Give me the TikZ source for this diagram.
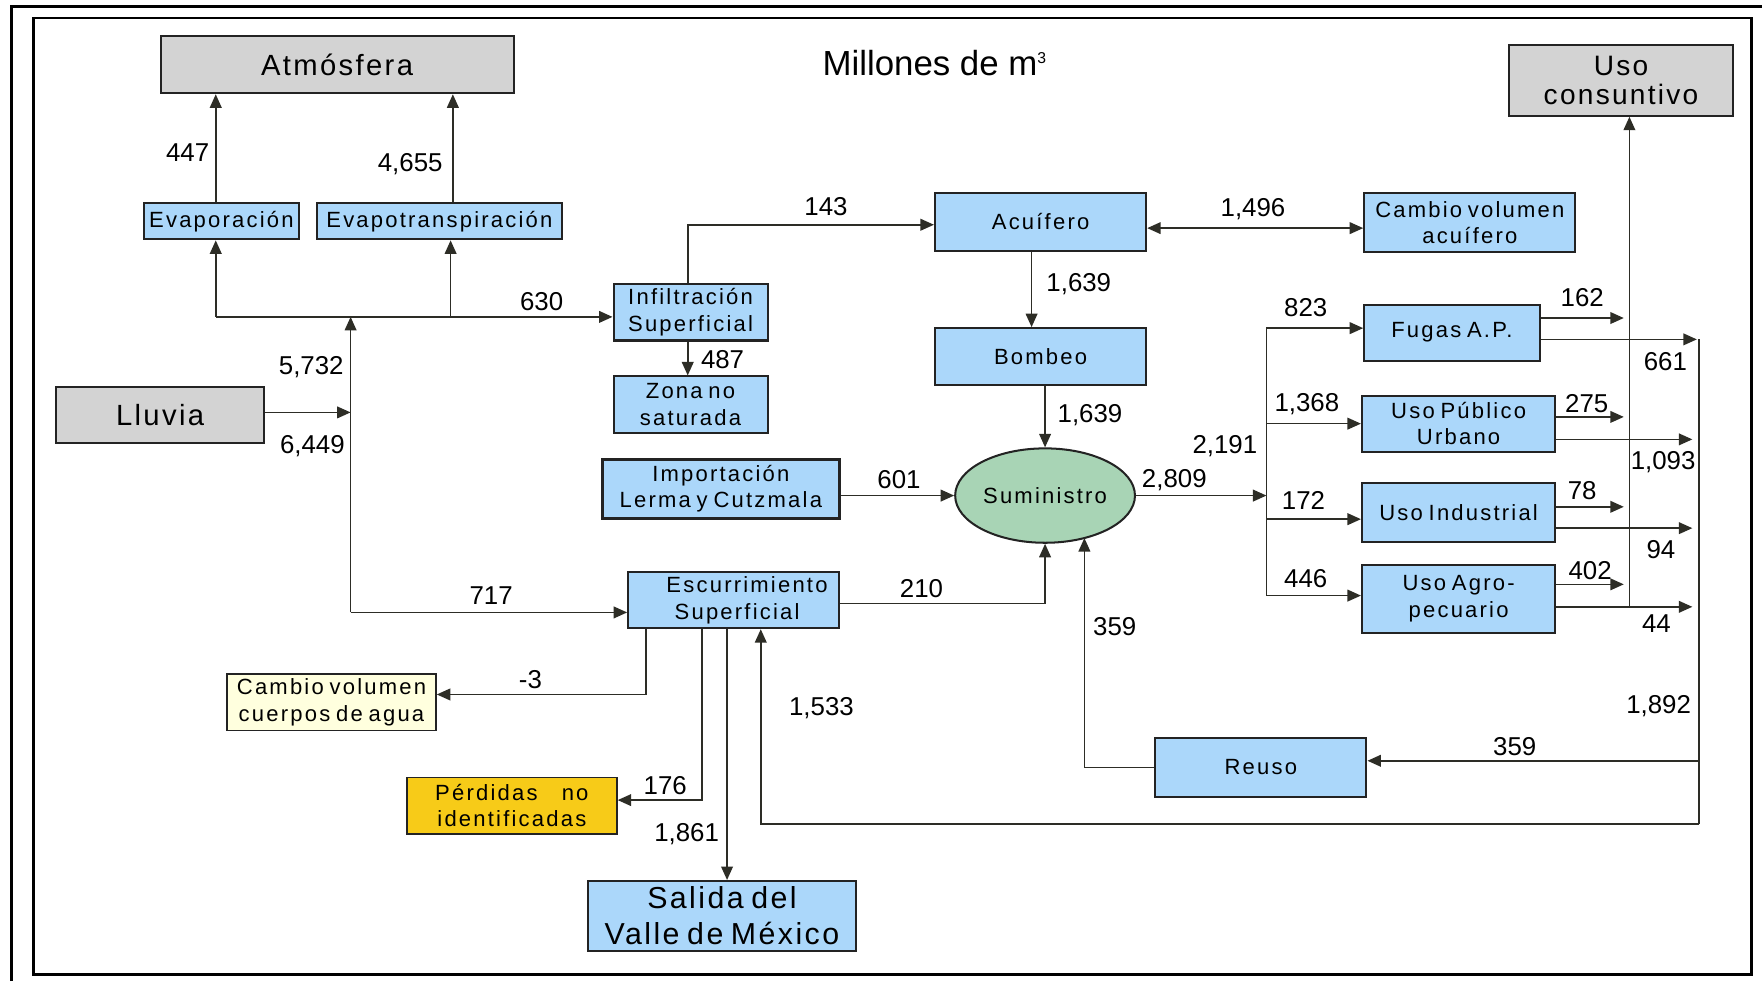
\documentclass[tikz,border=0pt]{standalone}
\usepackage{fontspec}
\setmainfont{Liberation Sans}
\newfontfamily\bfam[LetterSpace=10,WordSpace=0.7]{Liberation Sans}
\newfontfamily\gfam[LetterSpace=8,WordSpace=0.7]{Liberation Sans}
\usetikzlibrary{arrows.meta,shapes.geometric,calc}
\definecolor{blueb}{RGB}{171,215,250}
\definecolor{grayb}{RGB}{211,211,211}
\definecolor{greenb}{RGB}{168,212,181}
\definecolor{paley}{RGB}{255,255,222}
\definecolor{goldb}{RGB}{247,203,24}
\definecolor{linec}{RGB}{45,45,38}
\definecolor{boxline}{RGB}{35,35,35}
\begin{document}
\begin{tikzpicture}[x=0.5pt,y=-0.5pt,
  ln/.style={draw=linec,line width=0.75pt},
  arr/.style={ln,-{Triangle[length=6pt,width=5.2pt]}},
  darr/.style={ln,{Triangle[length=6pt,width=5.2pt]}-{Triangle[length=6pt,width=5.2pt]}},
  box/.style={draw=boxline,line width=0.9pt,fill=blueb,inner sep=0pt,align=center,
    font=\bfam\fontsize{9.8}{11.8}\selectfont},
  gbox/.style={box,fill=grayb,font=\gfam\fontsize{13}{13.5}\selectfont},
  lab/.style={font=\fontsize{11.5}{13}\selectfont,inner sep=0pt}]
\useasboundingbox (0,0) rectangle (1568,873);
\fill[white] (0,0) rectangle (1568,873);
% frame
\draw[line width=1.3pt,black] (10,873) -- (10,6) -- (1568,6);
\draw[line width=1.3pt,black] (30,16) rectangle (1559,867);
% title
\node[font=\fontsize{15.5}{17}\selectfont,inner sep=0pt] (title) at (832,56) {Millones de m\textsuperscript{\fontsize{7}{8}\selectfont 3}};
% nodes
\node[gbox,minimum width=157pt,minimum height=25.5pt] (atm) at (300,57.5) {Atmósfera};
\node[gbox,minimum width=99.5pt,minimum height=31.5pt,font=\gfam\fontsize{12.5}{13}\selectfont] (ucons) at (1442.5,71.5) {Uso\\consuntivo};
\node[box,minimum width=69pt,minimum height=16pt] (evap) at (197,197) {Evaporación};
\node[box,minimum width=109pt,minimum height=16pt] (evapt) at (391,197) {Evapotranspiración};
\node[gbox,minimum width=92.5pt,minimum height=25pt] (lluvia) at (142.5,369) {Lluvia};
\node[box,minimum width=68.5pt,minimum height=25pt] (infil) at (614.5,278) {Infiltración\\Superficial};
\node[box,minimum width=68.5pt,minimum height=25pt] (zona) at (614.5,360) {Zona no\\saturada};
\node[box,minimum width=94pt,minimum height=25.5pt] (acu) at (926,197.5) {Acuífero};
\node[box,minimum width=94pt,minimum height=26pt] (cva) at (1308,198) {Cambio volumen\\acuífero};
\node[box,minimum width=94pt,minimum height=25.5pt] (bomb) at (926,317.5) {Bombeo};
\node[box,minimum width=105.5pt,minimum height=26pt,line width=1.3pt] (imp) at (641.5,435) {Importación\\Lerma y Cutzmala};
\node[ellipse,draw=boxline,line width=0.9pt,fill=greenb,inner sep=0pt,minimum width=80pt,minimum height=42pt,
  font=\bfam\fontsize{9.8}{11.8}\selectfont] (sum) at (930,441) {Suministro};
\node[box,minimum width=78pt,minimum height=25pt] (fugas) at (1292,296) {Fugas A.P.};
\node[box,minimum width=86pt,minimum height=25pt] (up) at (1298,377) {Uso Público\\Urbano};
\node[box,minimum width=86pt,minimum height=26pt] (ind) at (1298,456) {Uso Industrial};
\node[box,minimum width=86pt,minimum height=30pt] (agro) at (1298,533) {Uso Agro-\\pecuario};
\node[box,minimum width=94pt,minimum height=25pt] (escur) at (653,534) {\hspace*{1.2em}Escurrimiento\\\hspace*{0.3em}Superficial};
\node[box,minimum width=93pt,minimum height=25pt,fill=paley,line width=0.7pt] (cvc) at (295,625) {Cambio volumen\\cuerpos de agua};
\node[box,minimum width=93.5pt,minimum height=25pt,fill=goldb,line width=0.7pt] (perd) at (455.5,717) {Pérdidas\hspace*{1.1em}no\\identificadas};
\node[box,minimum width=119.5pt,minimum height=31pt,font=\gfam\fontsize{13.5}{16}\selectfont] (sal) at (642.5,815) {Salida del\\Valle de México};
\node[box,minimum width=94pt,minimum height=26pt] (reuso) at (1122,683) {Reuso};
% junction coordinates
\coordinate (jr) at (312,282);
\coordinate (jb) at (312,545);
\coordinate (jd) at (1127,439);
\coordinate (jc) at (1450,540);
\coordinate (jt) at (1512,302);
\coordinate (jz) at (1512,733);
\coordinate (jre) at (1512,677);
% connectors
\draw[arr] (evap.north -| 192,0) -- (atm.south -| 192,0);
\draw[arr] (evapt.north -| 403,0) -- (atm.south -| 403,0);
\draw[arr] (jr -| 192,0) -- (evap.south -| 192,0);
\draw[arr] (jr -| 401,0) -- (evapt.south -| 401,0);
\draw[arr] (jr -| 192,0) -- (infil.west |- jr);
\draw[arr] (lluvia.east |- 0,367) -- (jr |- 0,367);
\draw[arr] (jb) -- (jr);
\draw[arr] (jb) -- (escur.west |- jb);
\draw[arr] (infil.north -| 612,0) |- (acu.west |- 0,200);
\draw[arr] (infil.south -| 612,0) -- (zona.north -| 612,0);
\draw[darr] (acu.east |- 0,203) -- (cva.west |- 0,203);
\draw[arr] (acu.south -| 918,0) -- (bomb.north -| 918,0);
\draw[arr] (bomb.south -| 930,0) -- (sum.north);
\draw[arr] (imp.east |- sum.west) -- (sum.west);
\draw[arr] (escur.east |- 0,537) -| (sum.south);
\draw[arr] (sum.east) -- (sum.east -| jd);
\draw[ln] (jd |- 0,292) -- (jd |- 0,530);
\draw[arr] (jd |- 0,292) -- (fugas.west |- 0,292);
\draw[arr] (jd |- 0,377) -- (up.west |- 0,377);
\draw[arr] (jd |- 0,462) -- (ind.west |- 0,462);
\draw[arr] (jd |- 0,530) -- (agro.west |- 0,530);
\draw[arr] (jc) -- (ucons.south -| jc);
\draw[arr] (fugas.east |- 0,283) -- (1445,283);
\draw[arr] (up.east |- 0,371) -- (1445,371);
\draw[arr] (ind.east |- 0,451) -- (1445,451);
\draw[arr] (agro.east |- 0,520) -- (1445,520);
\draw[arr] (fugas.east |- 0,302) -- (1510,302);
\draw[arr] (up.east |- 0,391) -- (1506,391);
\draw[arr] (ind.east |- 0,470) -- (1506,470);
\draw[arr] (agro.east |- 0,540) -- (1506,540);
\draw[ln] (jt) -- (jz);
\draw[arr] (jre) -- (reuso.east |- jre);
\draw[arr] (reuso.west) -| ($(sum.center)+(35,37.8)$);
\draw[arr] (jz) -| (escur.south -| 677,0);
\draw[arr] (escur.south -| 575,0) |- (cvc.east |- 0,618);
\draw[arr] (escur.south -| 625,0) |- (perd.east |- 0,712);
\draw[arr] (escur.south -| 647,0) -- (sal.north -| 647,0);
% labels
\node[lab] (l447) at (167,136) {447};
\node[lab] (l4655) at (365,146) {4,655};
\node[lab] (l630) at (482,268) {630};
\node[lab] (l5732) at (277,327) {5,732};
\node[lab] (l6449) at (278,397) {6,449};
\node[lab] (l717) at (437,530) {717};
\node[lab] (l143) at (735,184) {143};
\node[lab] (l487) at (643,320) {487};
\node[lab] (l1496) at (1115,186) {1,496};
\node[lab] (l1639a) at (960,253) {1,639};
\node[lab] (l1639b) at (970,369) {1,639};
\node[lab] (l601) at (800,427) {601};
\node[lab] (l210) at (820,524) {210};
\node[lab] (l2809) at (1045,427) {2,809};
\node[lab] (l2191) at (1090,397) {2,191};
\node[lab] (l823) at (1162,274) {823};
\node[lab] (l1368) at (1163,360) {1,368};
\node[lab] (l172) at (1160,445) {172};
\node[lab] (l446) at (1162,515) {446};
\node[lab] (l162) at (1408,265) {162};
\node[lab] (l275) at (1412,359) {275};
\node[lab] (l78) at (1408,437) {78};
\node[lab] (l402) at (1415,508) {402};
\node[lab] (l661) at (1482,322) {661};
\node[lab] (l1093) at (1480,411) {1,093};
\node[lab] (l94) at (1478,489) {94};
\node[lab] (l44) at (1474,555) {44};
\node[lab] (l1892) at (1476,628) {1,892};
\node[lab] (l359a) at (1348,664) {359};
\node[lab] (l359b) at (992,558) {359};
\node[lab] (l1533) at (731,630) {1,533};
\node[lab] (lm3) at (472,605) {-3};
\node[lab] (l176) at (592,699) {176};
\node[lab] (l1861) at (611,742) {1,861};
\end{tikzpicture}
\end{document}
